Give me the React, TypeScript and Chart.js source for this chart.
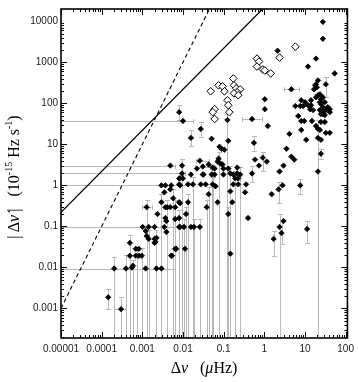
import React, { useEffect, useRef } from "react";
import { Chart, registerables } from "chart.js";

Chart.register(...registerables);

// ---------- axis ticks ----------
const xTickValues = [0.00001, 0.0001, 0.001, 0.01, 0.1, 1, 10, 100];
const xTickLabels = ["0.00001", "0.0001", "0.001", "0.01", "0.1", "1", "10", "100"];
const yTickValues = [0.001, 0.01, 0.1, 1, 10, 100, 1000, 10000];
const yTickLabels = ["0.001", "0.01", "0.1", "1", "10", "100", "1000", "10000"];
const xMin = 0.00001;
const xMax = 111;
const yMin = 0.00019;
const yMax = 20000;

// ---------- filled diamonds (Δν in μHz, |Δν̇| in 1e-15 Hz/s) ----------
const filledDnu = [
  27.6, 27.6, 2.12, 11.9, 18.7, 53.8, 4.63, 32.6, 20.9, 18.7,
  17.7, 16.7, 19.7, 23.3, 20.9, 18.7, 24.7, 27.6, 14.1, 14.1,
  11.9, 10.1, 8.1, 7.65, 9.0, 23.3, 24.7, 30.8, 36.5, 40.8,
  27.6, 5.8, 1.03, 1.03, 13.4, 15.8, 23.3, 27.6, 32.6, 40.8,
  24.7, 27.6, 30.8, 6.84, 8.1, 9.6, 14.9, 18.7, 20.9, 23.3,
  24.7, 30.8, 1.22, 4.14, 8.1, 10.7, 20.9, 24.7, 32.6, 40.8,
  24.7, 3.51, 4.63, 5.47, 20.9, 0.59, 0.74, 0.92, 1.15, 2.97,
  2.37, 2.81, 2.24, 1.52, 7.65, 1.70, 2.37, 2.97, 2.65, 11.3,
  0.00805, 0.01, 0.0274, 0.124, 0.50, 0.0157, 0.0507, 0.13, 0.079, 0.0885,
  0.104, 0.557, 0.075, 0.071, 0.0836, 0.026, 0.00488, 0.0095, 0.0307, 0.0428,
  0.0536, 0.0598, 0.0935, 0.099, 0.13, 0.216, 0.50, 0.022, 0.0157, 0.0307,
  0.032, 0.0507, 0.0598, 0.099, 0.146, 0.173, 0.216, 0.255, 0.00805, 0.01,
  0.00805, 0.0133, 0.0176, 0.0274, 0.0362, 0.0536, 0.0632, 0.173, 0.228, 0.356,
  0.193, 0.228, 0.337, 0.0428, 0.071, 0.163, 0.00805, 0.0133, 0.0384, 0.13,
  0.398, 0.0119, 0.00805, 0.00805, 0.0106, 0.0157, 0.026, 0.0186, 0.0068, 0.0112,
  0.146, 0.146, 0.00348, 0.00488, 0.00575, 0.00295, 0.00369, 0.00412, 0.00488, 0.00644,
  0.0085, 0.00128, 0.00236, 0.00369, 0.0039, 0.00102, 0.00143, 0.002, 0.00348, 0.0039,
  0.0085, 0.00128, 0.00143, 0.00223, 0.00121, 0.002, 0.000495, 0.000495, 0.00069, 0.00082,
  0.00097, 0.00069, 0.00082, 0.000586, 0.000203, 0.000396, 0.00121, 0.00223, 0.00295, 0.000553,
  0.000145, 0.0003, 0.002, 0.00211, 0.00515, 0.00535, 0.00644, 0.00644, 0.00295, 0.00369,
  0.00515, 0.0085, 0.0085, 0.0095,
];
const filledDnuDot = [
  9680, 3760, 1930, 790, 1235, 537, 220, 291, 363, 291,
  275, 220, 246, 167, 158, 141, 126, 141, 119, 90,
  90, 107, 119, 86, 86, 107, 96, 107, 81, 72,
  81, 86, 126, 72, 72, 68.5, 68.5, 64.8, 68.5, 61,
  54.8, 54.8, 51.9, 49, 37.2, 37.2, 37.2, 28.1, 23.8, 22.5,
  35.2, 35.2, 28.1, 18.0, 22.5, 12.9, 14.4, 12.9, 19.1, 19.1,
  5.93, 7.83, 5.02, 4.25, 2.18, 4.25, 3.04, 4.75, 3.8, 3.04,
  2.18, 1.0, 0.8, 0.61, 1.0, 0.0496, 0.097, 0.135, 0.069, 0.0865,
  61, 37.2, 23.8, 39.3, 41.5, 14.4, 13.7, 12.2, 8.75, 7.83,
  7.41, 10.9, 4.49, 3.8, 3.4, 4.0, 3.04, 3.04, 2.88, 3.22,
  2.72, 2.57, 3.22, 2.57, 2.57, 2.72, 1.95, 2.57, 1.84, 1.84,
  1.84, 1.84, 1.84, 1.84, 1.95, 1.84, 1.95, 1.84, 1.48, 1.48,
  1.06, 1.06, 1.06, 1.06, 1.06, 1.06, 0.95, 1.06, 1.06, 1.06,
  1.48, 1.48, 0.677, 0.607, 0.388, 0.388, 0.388, 0.388, 0.294, 0.2,
  0.16, 0.2, 0.16, 0.097, 0.097, 0.097, 0.097, 0.097, 0.0284, 0.0284,
  0.0216, 0.716, 0.677, 0.8, 0.485, 0.388, 0.294, 0.294, 0.294, 0.294,
  0.367, 0.294, 0.2, 0.16, 0.135, 0.097, 0.097, 0.097, 0.097, 0.073,
  0.097, 0.0586, 0.0496, 0.0525, 0.077, 0.0397, 0.0397, 0.0193, 0.0193, 0.0193,
  0.0193, 0.0284, 0.0284, 0.011, 0.0094, 0.0094, 0.0094, 0.0094, 0.0094, 0.0099,
  0.00187, 0.00096, 0.0496, 0.042, 0.0193, 0.0193, 0.0284, 0.151, 1.0, 1.0,
  1.0, 1.0, 1.48, 1.95,
];

// ---------- open diamonds ----------
const openDnu = [
  2.37, 5.8, 0.66, 0.74, 0.66, 0.92, 1.03, 1.44, 0.173, 0.075,
  0.094, 0.105, 0.048, 0.18, 0.204, 0.255, 0.216, 0.18, 0.228, 0.124,
  0.13, 0.138, 0.06, 0.054, 0.06,
];
const openDnuDot = [
  1306, 2410, 1230, 1045, 790, 670, 635, 537, 405, 275,
  260, 197, 197, 275, 233, 220, 186, 176, 158, 119,
  90, 61, 72, 61, 41.5,
];

// ---------- model lines ----------
const solidLineDnu = [0.00001, 1];
const solidLineDnuDot = [0.22, 22000];
const dashedLineDnu = [0.00001, 0.05];
const dashedLineDnuDot = [0.001, 25000];

// ---------- vertical error bars: at Δν, from low to high ----------
const vBarDnu = [
  0.000203, 0.0003, 0.000145, 0.000396, 0.000495, 0.0006, 0.00075, 0.00097, 0.00128, 0.00143,
  0.00223, 0.00295, 0.00412, 0.00575, 0.00644, 0.00805, 0.0095, 0.0106, 0.0119, 0.0133,
  0.0176, 0.0186, 0.026, 0.0384, 0.0428, 0.0507, 0.0536, 0.075, 0.124, 0.13,
  0.146, 0.193, 0.255, 2.37, 20.9, 1.70, 2.65, 11.3, 7.65, 2.24,
  32.6, 24.7, 0.92, 0.50, 0.0157, 0.557, 0.00805, 0.0274,
];
const vBarLow = [
  0.00001, 0.00001, 0.00096, 0.00001, 0.00001, 0.00001, 0.00001, 0.00001, 0.00001, 0.00001,
  0.00001, 0.00001, 0.00001, 0.00001, 0.00001, 0.00001, 0.00001, 0.00001, 0.00001, 0.00001,
  0.00001, 0.00001, 0.00001, 0.00001, 0.00001, 0.00001, 0.00001, 0.00001, 0.00001, 0.00001,
  0.00001, 0.00001, 0.00001, 0.00001, 0.00001, 0.0193, 0.0375, 0.04, 0.6, 0.37,
  141, 4.49, 2.2, 1.2, 9, 7, 40, 15,
];
const vBarHigh = [
  0.0182, 0.0019, 0.0029, 0.02, 0.06, 0.015, 0.03, 0.03, 0.45, 0.08,
  0.08, 0.6, 0.45, 0.8, 0.45, 0.25, 4.5, 0.15, 0.3, 0.6,
  1.6, 0.15, 0.15, 0.45, 0.9, 2.8, 1.6, 6.5, 55, 0.3,
  2.9, 2.2, 2.8, 0.2, 39, 0.077, 0.135, 0.135, 1.4, 1.18,
  430, 7.83, 6.6, 3.0, 22, 16, 90, 35,
];

// ---------- horizontal error bars: at |Δν̇|, from low to high ----------
const hBarDnuDot = [37.2, 3.04, 1.95, 1.0, 0.097, 0.0094, 220, 41.5, 0.00096, 4.0, 2.88, 0.294];
const hBarLow = [0.000001, 0.000001, 0.000001, 0.000001, 0.000001, 0.000001, 2.97, 0.285, 0.000203, 0.021, 0.02, 0.001];
const hBarHigh = [0.0176, 0.0064, 0.0112, 0.0176, 0.0065, 0.0065, 7.2, 0.87, 0.000396, 0.043, 0.045, 0.0017];

const SERIF = "'Liberation Serif', 'Times New Roman', serif";
const SANS = "'Liberation Sans', Arial, sans-serif";

function labelFor(values: number[], labels: string[], v: number) {
  const i = values.findIndex((t) => Math.abs(Math.log10(t) - Math.log10(v)) < 1e-6);
  return i >= 0 ? labels[i] : "";
}

const errorBarPlugin = {
  id: "errorBars",
  beforeDatasetsDraw(chart: any) {
    const { ctx, chartArea: a, scales } = chart;
    const x = scales.x;
    const y = scales.y;
    ctx.save();
    ctx.beginPath();
    ctx.rect(a.left, a.top, a.right - a.left, a.bottom - a.top);
    ctx.clip();
    ctx.strokeStyle = "#b8b8b8";
    ctx.lineWidth = 1;
    const cap = 2.5;
    for (let i = 0; i < vBarDnu.length; i++) {
      const px = Math.round(x.getPixelForValue(vBarDnu[i])) + 0.5;
      const p1 = y.getPixelForValue(vBarLow[i]);
      const p2 = y.getPixelForValue(vBarHigh[i]);
      ctx.beginPath();
      ctx.moveTo(px, p1);
      ctx.lineTo(px, p2);
      for (const p of [p1, p2]) {
        if (p > a.top && p < a.bottom) {
          const r = Math.round(p) + 0.5;
          ctx.moveTo(px - cap, r);
          ctx.lineTo(px + cap, r);
        }
      }
      ctx.stroke();
    }
    for (let i = 0; i < hBarDnuDot.length; i++) {
      const py = Math.round(y.getPixelForValue(hBarDnuDot[i])) + 0.5;
      const p1 = x.getPixelForValue(hBarLow[i]);
      const p2 = x.getPixelForValue(hBarHigh[i]);
      ctx.beginPath();
      ctx.moveTo(p1, py);
      ctx.lineTo(p2, py);
      for (const p of [p1, p2]) {
        if (p > a.left && p < a.right) {
          const r = Math.round(p) + 0.5;
          ctx.moveTo(r, py - cap);
          ctx.lineTo(r, py + cap);
        }
      }
      ctx.stroke();
    }
    ctx.restore();
  },
};

const framePlugin = {
  id: "frame",
  afterDraw(chart: any) {
    const { ctx, chartArea: a, scales } = chart;
    const x = scales.x;
    const y = scales.y;
    ctx.save();
    ctx.strokeStyle = "#000";
    ctx.lineWidth = 1;
    ctx.beginPath();
    for (let d = -6; d <= 3; d++) {
      for (let m = 1; m <= 9; m++) {
        const v = m * Math.pow(10, d);
        if (v >= xMin * 0.999 && v <= xMax) {
          const px = Math.round(x.getPixelForValue(v)) + 0.5;
          const len = m === 1 ? 6 : 3;
          ctx.moveTo(px, a.bottom);
          ctx.lineTo(px, a.bottom - len);
          ctx.moveTo(px, a.top);
          ctx.lineTo(px, a.top + len);
        }
        if (v >= yMin && v <= yMax) {
          const py = Math.round(y.getPixelForValue(v)) + 0.5;
          const len = m === 1 ? 6 : 3;
          ctx.moveTo(a.left, py);
          ctx.lineTo(a.left + len, py);
          ctx.moveTo(a.right, py);
          ctx.lineTo(a.right - len, py);
        }
      }
    }
    ctx.stroke();
    ctx.lineWidth = 1.6;
    ctx.strokeRect(a.left, a.top, a.right - a.left, a.bottom - a.top);
    ctx.restore();
  },
};

type Seg = { t: string; f: string; dy?: number };

function drawSegs(ctx: CanvasRenderingContext2D, segs: Seg[], cx: number, baseline: number) {
  let total = 0;
  const widths: number[] = [];
  for (const s of segs) {
    ctx.font = s.f;
    const w = ctx.measureText(s.t).width;
    widths.push(w);
    total += w;
  }
  let xx = cx - total / 2;
  ctx.textAlign = "left";
  ctx.textBaseline = "alphabetic";
  segs.forEach((s, i) => {
    ctx.font = s.f;
    ctx.fillText(s.t, xx, baseline + (s.dy || 0));
    xx += widths[i];
  });
}

const titlePlugin = {
  id: "axisTitles",
  afterDraw(chart: any) {
    const { ctx } = chart;
    const big = `16px ${SERIF}`;
    const bigI = `italic 16px ${SERIF}`;
    const small = `10px ${SERIF}`;
    ctx.save();
    ctx.fillStyle = "#000";
    drawSegs(
      ctx,
      [
        { t: "Δ", f: big },
        { t: "ν", f: bigI },
        { t: "   (", f: big },
        { t: "μ", f: bigI },
        { t: "Hz)", f: big },
      ],
      204,
      373
    );
    ctx.translate(19, 177);
    ctx.rotate(-Math.PI / 2);
    drawSegs(
      ctx,
      [
        { t: "|\u2009Δ", f: big },
        { t: "ν\u0307", f: bigI },
        { t: "\u2009|", f: big },
        { t: "   (10", f: big },
        { t: "-15", f: small, dy: -7 },
        { t: " Hz s", f: big },
        { t: "-1", f: small, dy: -7 },
        { t: ")", f: big },
      ],
      0,
      0
    );
    ctx.restore();
  },
};

export default function App() {
  const ref = useRef<HTMLCanvasElement | null>(null);
  useEffect(() => {
    if (!ref.current) return;
    const toPts = (xs: number[], ys: number[]) => xs.map((v, i) => ({ x: v, y: ys[i] }));
    const chart = new Chart(ref.current, {
      type: "scatter",
      data: {
        datasets: [
          {
            label: "filled",
            data: toPts(filledDnu, filledDnuDot),
            pointStyle: "rectRot",
            pointRadius: 2.7,
            backgroundColor: "#000",
            borderColor: "#000",
            borderWidth: 0.8,
          },
          {
            label: "open",
            data: toPts(openDnu, openDnuDot),
            pointStyle: "rectRot",
            pointRadius: 3.8,
            backgroundColor: "#fff",
            borderColor: "#000",
            borderWidth: 1,
          },
          {
            label: "solid",
            data: toPts(solidLineDnu, solidLineDnuDot),
            showLine: true,
            pointRadius: 0,
            borderColor: "#000",
            borderWidth: 1.3,
          },
          {
            label: "dashed",
            data: toPts(dashedLineDnu, dashedLineDnuDot),
            showLine: true,
            pointRadius: 0,
            borderColor: "#000",
            borderWidth: 1.1,
            borderDash: [4, 3],
          },
        ],
      } as any,
      options: {
        responsive: false,
        animation: false,
        events: [],
        layout: { padding: { top: 6, right: 7, left: 0, bottom: 0 } },
        plugins: { legend: { display: false }, tooltip: { enabled: false } },
        scales: {
          x: {
            type: "logarithmic",
            position: "bottom",
            min: xMin,
            max: xMax,
            afterBuildTicks: (s: any) => {
              s.ticks = xTickValues.map((v) => ({ value: v }));
            },
            afterFit: (s: any) => {
              s.height = 44;
            },
            ticks: {
              callback: (v: any) => labelFor(xTickValues, xTickLabels, Number(v)),
              font: { family: SANS, size: 10 },
              color: "#1a1a1a",
              maxRotation: 0,
              autoSkip: false,
              padding: 5,
            },
            grid: { display: false, drawTicks: false },
            border: { display: false },
          },
          y: {
            type: "logarithmic",
            position: "left",
            min: yMin,
            max: yMax,
            afterBuildTicks: (s: any) => {
              s.ticks = yTickValues.map((v) => ({ value: v }));
            },
            afterFit: (s: any) => {
              s.width = 61;
            },
            ticks: {
              callback: (v: any) => labelFor(yTickValues, yTickLabels, Number(v)),
              font: { family: SANS, size: 10 },
              color: "#1a1a1a",
              autoSkip: false,
              padding: 3,
            },
            grid: { display: false, drawTicks: false },
            border: { display: false },
          },
        },
      } as any,
      plugins: [errorBarPlugin, framePlugin, titlePlugin],
    });
    return () => chart.destroy();
  }, []);
  return (
    <div style={{ position: "fixed", left: 0, top: 0, width: 359, height: 382, background: "#fff" }}>
      <canvas ref={ref} width={359} height={382} style={{ display: "block" }} />
    </div>
  );
}
